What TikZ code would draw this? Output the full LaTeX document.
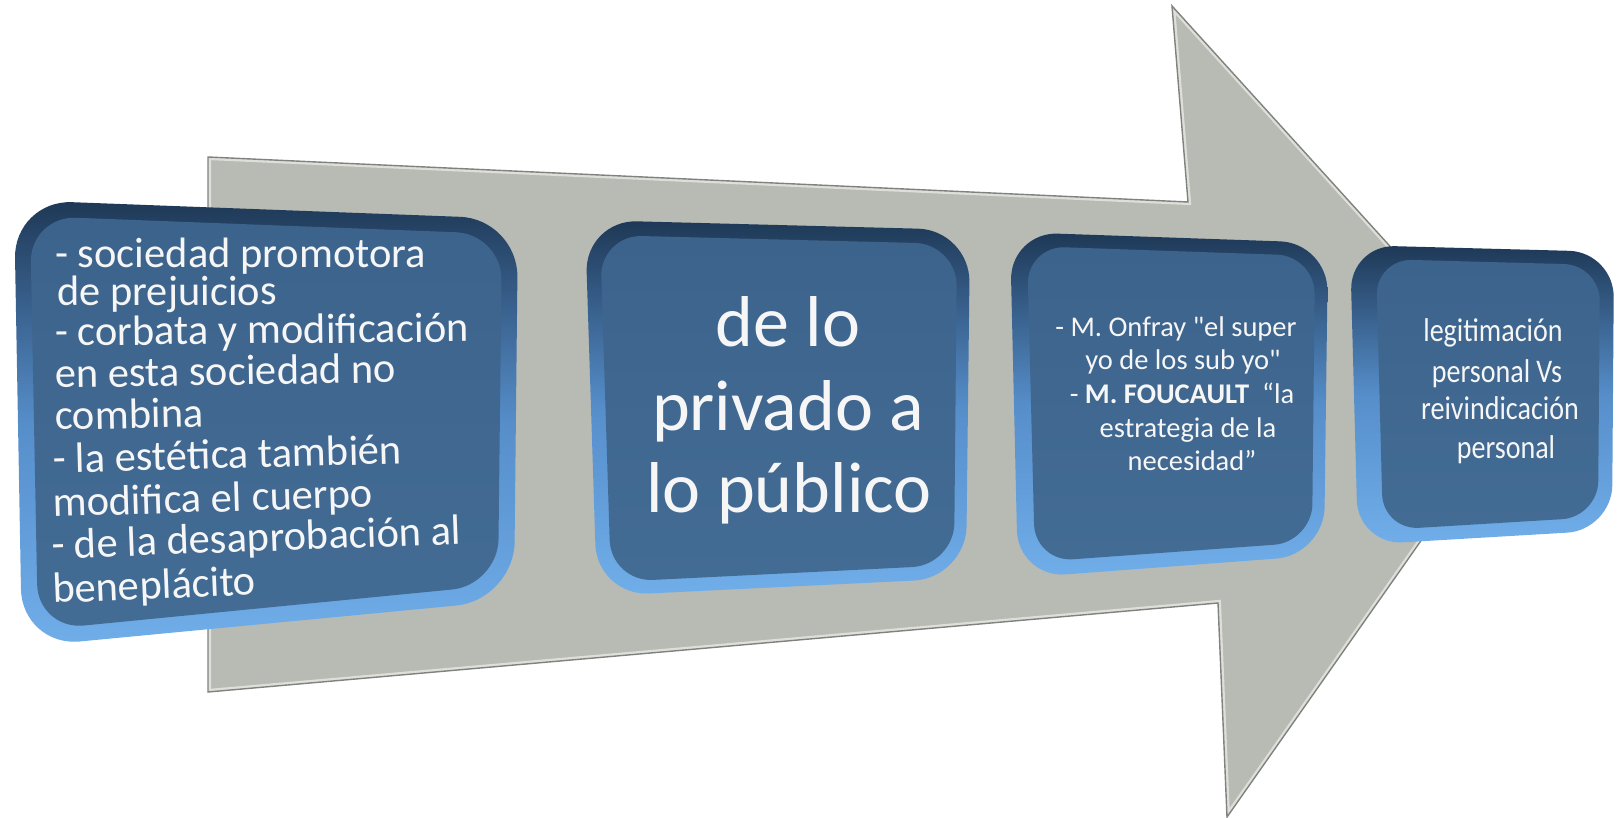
\documentclass[tikz,border=0pt]{standalone}
\usepackage{fontspec}
\setmainfont{Carlito}
\newfontfamily\plainq{Carlito}
\newcommand\qdbl{{\plainq\char34}}
\definecolor{agray}{RGB}{184,186,180}
\definecolor{aedge}{RGB}{128,130,126}
\definecolor{ahigh}{RGB}{222,223,219}
\definecolor{bvtop}{RGB}{30,56,86}
\definecolor{bvmid}{RGB}{86,142,202}
\definecolor{bvbot}{RGB}{112,174,234}
\definecolor{facetop}{RGB}{60,99,139}
\definecolor{facebot}{RGB}{67,108,149}
\definecolor{txt}{RGB}{246,246,246}
\tikzset{
  bevel/.style={top color=bvtop, bottom color=bvbot, middle color=bvmid},
  face/.style={top color=facetop, bottom color=facebot},
  lineA/.style={anchor=base west, text=txt, inner sep=0pt, text height=26, text depth=6, font=\fontsize{42.5}{42.5}\selectfont},
  lineB/.style={anchor=base, text=txt, inner sep=0pt, text height=50, text depth=14, font=\fontsize{72}{72}\selectfont},
  lineC/.style={anchor=base, text=txt, inner sep=0pt, text height=18, text depth=4, font=\fontsize{28.5}{28.5}\selectfont},
  lineD/.style={anchor=base, text=txt, inner sep=0pt, text height=22, text depth=5, xscale=0.85, font=\fontsize{33}{33}\selectfont},
}
\begin{document}
\begin{tikzpicture}[x=1pt,y=-1pt]
\useasboundingbox (0,0) rectangle (1618,818);
% ---------- big arrow ----------
\coordinate (a1) at (208,157);
\coordinate (a2) at (1188,202);
\coordinate (a3) at (1172,6);
\coordinate (a4) at (1524,394);
\coordinate (a5) at (1227,817);
\coordinate (a6) at (1218,603);
\coordinate (a7) at (208,692);
\fill[agray] (a1) -- (a2) -- (a3) -- (a4) -- (a5) -- (a6) -- (a7) -- cycle;
\begin{scope}
  \clip (a1) -- (a2) -- (a3) -- (a4) -- (a5) -- (a6) -- (a7) -- cycle;
  \draw[ahigh, line width=6, line join=miter] (a1) -- (a2) -- (a3) -- (a4) -- (a5) -- (a6) -- (a7) -- cycle;
\end{scope}
\draw[aedge, line width=1.4, line join=miter] (a1) -- (a2) -- (a3) -- (a4) -- (a5) -- (a6) -- (a7) -- cycle;

% ---------- box 1 ----------
\shade[bevel, rounded corners=58] (14,200) -- (518,219) -- (514,600) -- (22,647) -- cycle;
\shade[face, rounded corners=46] (30,216) -- (502,234) -- (498,585) -- (38,630) -- cycle;
\node[lineA, rotate=0.0] (b1l1) at (55,268) {- sociedad promotora};
\node[lineA, rotate=0.3] (b1l2) at (57,306) {de prejuicios};
\node[lineA, rotate=0.6] (b1l3) at (55,346) {- corbata y modificación};
\node[lineA, rotate=0.9] (b1l4) at (55,388) {en esta sociedad no};
\node[lineA, rotate=1.2] (b1l5) at (55,430) {combina};
\node[lineA, rotate=1.5] (b1l6) at (53,473) {- la estética también};
\node[lineA, rotate=1.8] (b1l7) at (53,517) {modifica el cuerpo};
\node[lineA, rotate=2.1] (b1l8) at (52,559) {- de la desaprobación al};
\node[lineA, rotate=2.4] (b1l9) at (53,603) {beneplácito};

% ---------- box 2 ----------
\shade[bevel, rounded corners=52] (585,220) -- (970,230) -- (966,578) -- (597,596) -- cycle;
\shade[face, rounded corners=42] (600,235) -- (957,244) -- (954,565) -- (611,582) -- cycle;
\node[lineB] (b2l1) at (788,347) {de lo};
\node[lineB] (b2l2) at (788,430) {privado a};
\node[lineB] (b2l3) at (789,512) {lo público};

% ---------- box 3 ----------
\shade[bevel, rounded corners=48] (1010,232) -- (1328,243) -- (1324,555) -- (1018,578) -- cycle;
\shade[face, rounded corners=38] (1027,246) -- (1315,256) -- (1312,542) -- (1035,562) -- cycle;
\node[lineC] (b3l1) at (1176,337) {- M. Onfray \qdbl el super};
\node[lineC] (b3l2) at (1183,370) {yo de los sub yo\qdbl};
\node[lineC] (b3l3) at (1182,403) {- \textbf{M. FOUCAULT}\ \ “la};
\node[lineC] (b3l4) at (1188,437) {estrategia de la};
\node[lineC] (b3l5) at (1192,470) {necesidad”};

% ---------- box 4 ----------
\shade[bevel, rounded corners=45] (1350,245) -- (1614,252) -- (1612,530) -- (1358,545) -- cycle;
\shade[face, rounded corners=36] (1376,259) -- (1600,265) -- (1598,517) -- (1383,530) -- cycle;
\node[lineD] (b4l1) at (1493,342) {legitimación};
\node[lineD] (b4l2) at (1497,382) {personal Vs};
\node[lineD] (b4l3) at (1500,420) {reivindicación};
\node[lineD] (b4l4) at (1506,458) {personal};
\end{tikzpicture}
\end{document}
